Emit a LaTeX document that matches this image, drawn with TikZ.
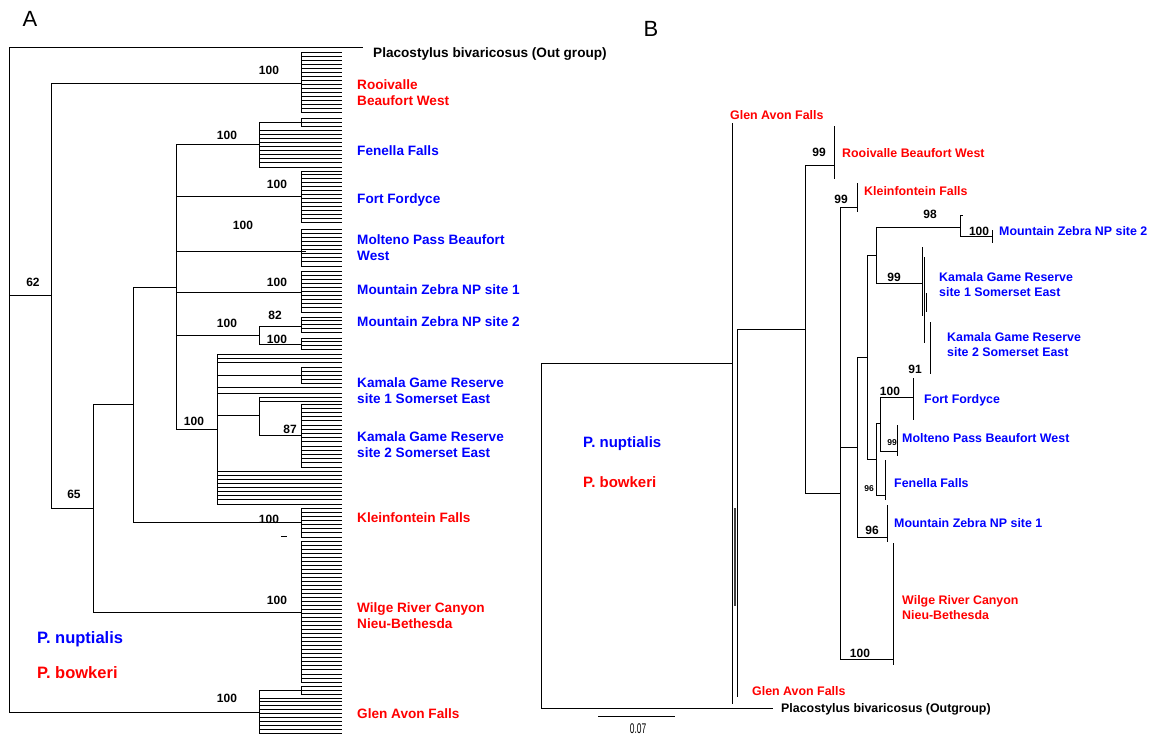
\documentclass[tikz,border=0pt]{standalone}
\usepackage{fontspec}
\setmainfont{Liberation Sans}
\definecolor{cred}{RGB}{255,0,0}
\definecolor{cblue}{RGB}{0,0,255}
\tikzset{
  br/.style={line width=1pt},
  tipl/.style={line width=0.9pt},
  brB/.style={line width=0.9pt},
  labA/.style={font=\fontsize{13.6}{16}\selectfont\bfseries, anchor=west, inner sep=0pt, align=left},
  labB/.style={font=\fontsize{12.4}{15}\selectfont\bfseries, anchor=west, inner sep=0pt, align=left},
  boot/.style={font=\fontsize{12}{12}\selectfont\bfseries, inner sep=0pt},
  bootS/.style={font=\fontsize{8.5}{9}\selectfont\bfseries, inner sep=0pt},
  legA/.style={font=\fontsize{16.5}{18}\selectfont\bfseries, anchor=west, inner sep=0pt},
  legB/.style={font=\fontsize{15}{17}\selectfont\bfseries, anchor=west, inner sep=0pt},
  panel/.style={font=\fontsize{22}{22}\selectfont, inner sep=0pt}
}
% comb: vertical at x from ytop to ybot, with tips to x=342
\newcommand\mycomb[3]{%
  \pgfmathtruncatemacro\nn{round((#3-#2)/4.07)}%
  \draw[tipl] (#1,#2) -- (#1,#3);%
  \foreach \k in {0,...,\nn}{%
    \pgfmathsetmacro\yy{#2+(#3-#2)*\k/\nn}%
    \draw[tipl] (#1,\yy) -- (342,\yy);}%
}
\newcommand\mytips[3]{%
  \pgfmathtruncatemacro\nn{round((#3-#2)/4.07)}%
  \foreach \k in {0,...,\nn}{%
    \pgfmathsetmacro\yy{#2+(#3-#2)*\k/\nn}%
    \draw[tipl] (#1,\yy) -- (342,\yy);}%
}
\begin{document}
\begin{tikzpicture}[x=1pt,y=-1pt]
\useasboundingbox (0,0) rectangle (1157,740);
\fill[white] (0,0) rectangle (1157,740);
% ================= PANEL A =================
\node[panel] (pA) at (30,19) {A};
\draw[br] (9,47) -- (363,47);
\draw[br] (9,47) -- (9,712);
\draw[br] (9,295) -- (51,295);
\draw[br] (51,83) -- (51,508);
\draw[br] (51,83) -- (301,83);
\draw[br] (51,508) -- (93,508);
\draw[br] (93,404) -- (93,612);
\draw[br] (93,612) -- (301,612);
\draw[br] (93,404) -- (133,404);
\draw[br] (133,287) -- (133,522);
\draw[br] (133,522) -- (301,522);
\draw[br] (133,287) -- (176,287);
\draw[br] (176,144) -- (176,429);
\draw[br] (176,144) -- (259,144);
\draw[br] (176,196) -- (301,196);
\draw[br] (176,251) -- (306,251);
\draw[br] (176,292) -- (301,292);
\draw[br] (176,335) -- (259,335);
\draw[br] (176,429) -- (217,429);
\draw[br] (9,712) -- (259,712);
% Rooivalle
\mycomb{301}{52}{112}
% Fenella
\mycomb{301}{118}{126}
\draw[br] (259,122) -- (301,122);
\draw[br] (259,122) -- (259,167);
\mytips{259}{130}{167}
% Fort Fordyce
\mycomb{301}{171}{222}
% Molteno
\mycomb{301}{229}{266}
% MZ1
\mycomb{301}{271}{312}
% MZ2
\draw[br] (259,326) -- (259,344);
\draw[br] (259,326) -- (301,326);
\draw[br] (259,344) -- (301,344);
\mycomb{301}{317}{332}
\mycomb{301}{338}{349}
% Kamala
\draw[br] (217,354) -- (217,504);
\mytips{217}{354}{362}
\draw[br] (217,375) -- (301,375);
\mycomb{301}{367}{383}
\mytips{217}{387}{393}
\draw[br] (217,415) -- (259,415);
\draw[br] (259,397) -- (259,435);
\mytips{259}{397}{401}
\draw[br] (259,435) -- (301,435);
\mycomb{301}{404}{467}
\mytips{217}{471}{504}
% Kleinfontein
\mycomb{301}{508}{537}
\draw[line width=0.8pt] (281,536) -- (287,536);
% Wilge
\mycomb{301}{541}{682}
% Glen Avon
\draw[br] (259,690) -- (259,733);
\draw[br] (259,690) -- (301,690);
\mycomb{301}{686}{694}
\mytips{259}{698}{733}
% bootstrap A
\node[boot] (a1) at (269,70) {100};
\node[boot] (a2) at (227,135) {100};
\node[boot] (a3) at (277,184) {100};
\node[boot] (a4) at (243,225) {100};
\node[boot] (a5) at (277,282) {100};
\node[boot] (a6) at (275,315) {82};
\node[boot] (a7) at (227,323) {100};
\node[boot] (a8) at (277,339) {100};
\node[boot] (a9) at (194,421) {100};
\node[boot] (a10) at (290,429) {87};
\node[boot] (a11) at (269,519) {100};
\node[boot] (a12) at (277,600) {100};
\node[boot] (a13) at (227,698) {100};
\node[boot] (a14) at (33,282) {62};
\node[boot] (a15) at (74,494) {65};
% labels A
\node[labA] (la0) at (373,54) {Placostylus bivaricosus (Out group)};
\node[labA,text=cred] (la1) at (357,93) {Rooivalle\\Beaufort West};
\node[labA,text=cblue] (la2) at (357,151) {Fenella Falls};
\node[labA,text=cblue] (la3) at (357,200) {Fort Fordyce};
\node[labA,text=cblue] (la4) at (357,248) {Molteno Pass Beaufort\\West};
\node[labA,text=cblue] (la5) at (357,290) {Mountain Zebra NP site 1};
\node[labA,text=cblue] (la6) at (357,322) {Mountain Zebra NP site 2};
\node[labA,text=cblue] (la7) at (357,391) {Kamala Game Reserve\\site 1 Somerset East};
\node[labA,text=cblue] (la8) at (357,445) {Kamala Game Reserve\\site 2 Somerset East};
\node[labA,text=cred] (la9) at (357,518) {Kleinfontein Falls};
\node[labA,text=cred] (la10) at (357,616) {Wilge River Canyon\\Nieu-Bethesda};
\node[labA,text=cred] (la11) at (357,714) {Glen Avon Falls};
\node[legA,text=cblue] (lgA1) at (37,639) {P. nuptialis};
\node[legA,text=cred] (lgA2) at (37,673) {P. bowkeri};
% ================= PANEL B =================
\node[panel] (pB) at (651,29) {B};
\draw[brB] (541,363) -- (541,708);
\draw[brB] (541,363) -- (732,363);
\draw[brB] (541,708) -- (773,708);
\draw[brB] (732,123) -- (732,704);
\draw[brB] (737,329) -- (737,697);
\draw[line width=2.2pt, black!75] (735,508) -- (735,606);
\draw[brB] (737,329) -- (805,329);
\draw[brB] (805,165) -- (805,493);
\draw[brB] (805,165) -- (834,165);
\draw[brB] (834,126) -- (834,179);
\draw[brB] (805,493) -- (840,493);
\draw[brB] (840,207) -- (840,659);
\draw[brB] (840,207) -- (857,207);
\draw[brB] (857,183) -- (857,212);
\draw[brB] (840,447) -- (857,447);
\draw[brB] (857,357) -- (857,537);
\draw[brB] (857,537) -- (887,537);
\draw[brB] (887,505) -- (887,542);
\draw[brB] (857,357) -- (867,357);
\draw[brB] (867,255) -- (867,459);
\draw[brB] (867,255) -- (876,255);
\draw[brB] (876,227) -- (876,283);
\draw[brB] (876,227) -- (960,227);
\draw[brB] (960,215) -- (960,236);
\draw[brB] (960,215) -- (963,215);
\draw[brB] (960,236) -- (992,236);
\draw[brB] (992,230) -- (992,243);
\draw[brB] (876,283) -- (922,283);
\draw[brB] (922,247) -- (922,316);
\draw[brB] (924,257) -- (924,343);
\draw[brB] (926,293) -- (926,312);
\draw[brB] (930,322) -- (930,374);
\draw[brB] (867,459) -- (876,459);
\draw[brB] (876,423) -- (876,495);
\draw[brB] (876,423) -- (880,423);
\draw[brB] (880,397) -- (880,451);
\draw[brB] (880,397) -- (913,397);
\draw[brB] (913,378) -- (913,420);
\draw[brB] (880,451) -- (897,451);
\draw[brB] (897,425) -- (897,456);
\draw[brB] (876,495) -- (885,495);
\draw[brB] (885,460) -- (885,500);
\draw[brB] (840,659) -- (893,659);
\draw[brB] (893,543) -- (893,665);
% scale bar
\draw[brB] (598,716) -- (675,716);
\node[inner sep=0pt, font=\fontsize{14}{14}\selectfont, xscale=0.6] (sc) at (638,729) {0.07};
% bootstrap B
\node[boot] (b1) at (819,152) {99};
\node[boot] (b2) at (841,199) {99};
\node[boot] (b3) at (930,214) {98};
\node[boot] (b4) at (979,231) {100};
\node[boot] (b5) at (894,277) {99};
\node[boot] (b6) at (915,369) {91};
\node[boot] (b7) at (890,391) {100};
\node[bootS] (b8) at (892,443) {99};
\node[bootS] (b9) at (869,489) {96};
\node[boot] (b10) at (872,530) {96};
\node[boot] (b11) at (860,653) {100};
% labels B
\node[labB,text=cred] (lb0) at (730,115) {Glen Avon Falls};
\node[labB,text=cred] (lb1) at (842,153) {Rooivalle Beaufort West};
\node[labB,text=cred] (lb2) at (864,191) {Kleinfontein Falls};
\node[labB,text=cblue] (lb3) at (999,231) {Mountain Zebra NP site 2};
\node[labB,text=cblue] (lb4) at (939,285) {Kamala Game Reserve\\site 1 Somerset East};
\node[labB,text=cblue] (lb5) at (947,345) {Kamala Game Reserve\\site 2 Somerset East};
\node[labB,text=cblue] (lb6) at (924,400) {Fort Fordyce};
\node[labB,text=cblue] (lb7) at (902,438) {Molteno Pass Beaufort West};
\node[labB,text=cblue] (lb8) at (894,483) {Fenella Falls};
\node[labB,text=cblue] (lb9) at (894,523) {Mountain Zebra NP site 1};
\node[labB,text=cred] (lb10) at (902,608) {Wilge River Canyon\\Nieu-Bethesda};
\node[labB,text=cred] (lb11) at (752,691) {Glen Avon Falls};
\node[labB] (lb12) at (781,709) {Placostylus bivaricosus (Outgroup)};
\node[legB,text=cblue] (lgB1) at (583,444) {P. nuptialis};
\node[legB,text=cred] (lgB2) at (583,482) {P. bowkeri};
\end{tikzpicture}
\end{document}
